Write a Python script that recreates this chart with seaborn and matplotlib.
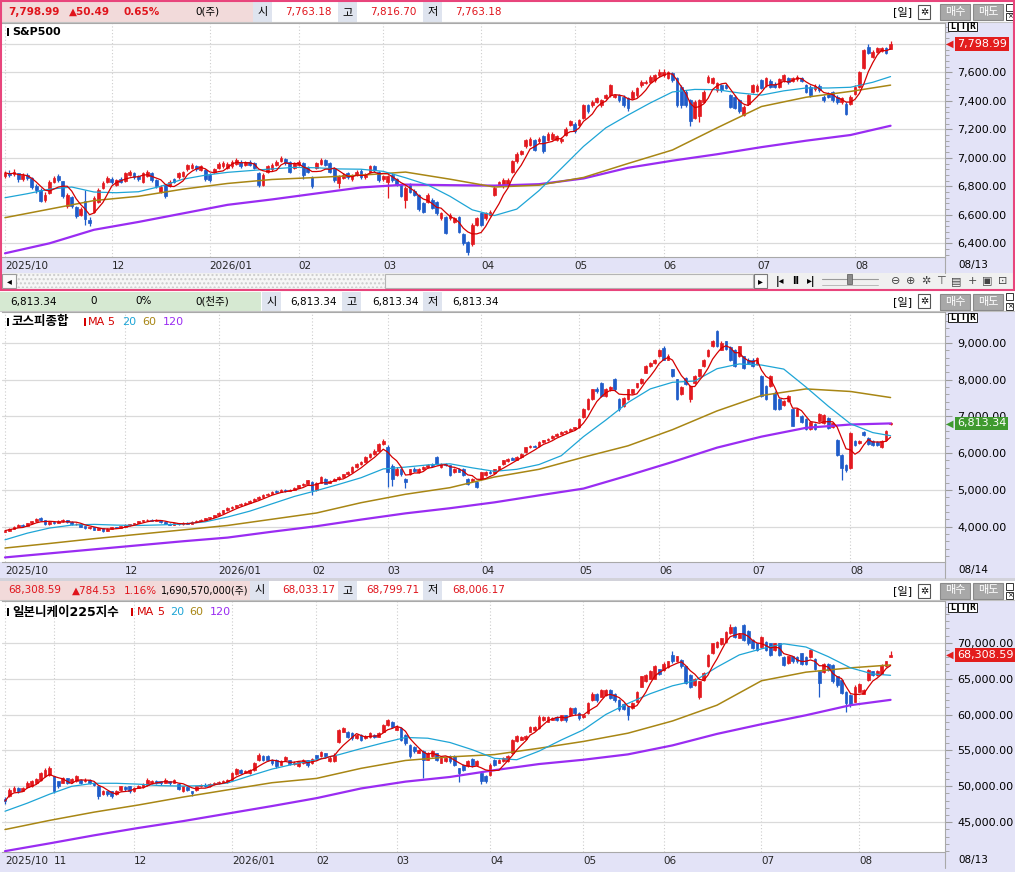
import numpy as np
import pandas as pd
import matplotlib
matplotlib.use("Agg")
import matplotlib.pyplot as plt
from matplotlib.patches import Rectangle
from matplotlib.lines import Line2D
import seaborn as sns

# === S&P500 daily candles ===
sp_open = [6870, 6895, 6885, 6890, 6850, 6878, 6860, 6805, 6772, 6702,
           6752, 6830, 6870, 6835, 6662, 6722, 6652, 6600, 6700, 6562,
           6620, 6690, 6790, 6830, 6852, 6812, 6850, 6840, 6880, 6892,
           6870, 6832, 6872, 6896, 6842, 6762, 6810, 6800, 6852, 6862,
           6872, 6920, 6930, 6942, 6916, 6916, 6880, 6900, 6930, 6942,
           6932, 6940, 6960, 6972, 6950, 6972, 6962, 6892, 6812, 6900,
           6920, 6950, 6980, 6992, 6972, 6930, 6950, 6962, 6932, 6862,
           6930, 6960, 6982, 6962, 6930, 6820, 6860, 6890, 6850, 6880,
           6910, 6862, 6902, 6942, 6900, 6850, 6832, 6880, 6852, 6810,
           6702, 6810, 6770, 6740, 6680, 6690, 6705, 6690, 6575, 6585,
           6575, 6550, 6585, 6462, 6410, 6392, 6530, 6610, 6575, 6600,
           6740, 6810, 6800, 6810, 6900, 6975, 7030, 7080, 7090, 7125,
           7115, 7150, 7125, 7135, 7125, 7115, 7160, 7230, 7240, 7230,
           7280, 7370, 7370, 7395, 7370, 7420, 7440, 7430, 7440, 7430,
           7420, 7420, 7440, 7510, 7525, 7535, 7545, 7580, 7580, 7560,
           7595, 7560, 7500, 7465, 7405, 7280, 7290, 7395, 7535, 7525,
           7475, 7510, 7510, 7440, 7430, 7405, 7300, 7380, 7465, 7470,
           7545, 7510, 7540, 7520, 7500, 7545, 7560, 7540, 7550, 7560,
           7510, 7500, 7480, 7505, 7430, 7450, 7460, 7430, 7390, 7380,
           7380, 7450, 7500, 7630, 7780, 7710, 7745, 7750, 7770, 7763.18]
sp_close = [6895, 6880, 6902, 6850, 6880, 6860, 6792, 6772, 6700, 6742,
            6830, 6860, 6842, 6730, 6740, 6660, 6590, 6642, 6572, 6540,
            6720, 6775, 6825, 6860, 6830, 6842, 6832, 6890, 6902, 6862,
            6850, 6890, 6902, 6842, 6800, 6796, 6732, 6832, 6832, 6890,
            6902, 6950, 6952, 6920, 6940, 6852, 6842, 6922, 6960, 6965,
            6960, 6972, 6986, 6942, 6970, 6952, 6932, 6812, 6880, 6940,
            6952, 6972, 7002, 6962, 6902, 6962, 6972, 6882, 6902, 6800,
            6962, 6986, 6952, 6900, 6842, 6870, 6882, 6862, 6876, 6902,
            6862, 6882, 6942, 6912, 6842, 6872, 6870, 6842, 6812, 6732,
            6790, 6762, 6740, 6640, 6622, 6740, 6650, 6612, 6610, 6472,
            6600, 6575, 6482, 6402, 6342, 6530, 6575, 6532, 6610, 6622,
            6790, 6830, 6845, 6845, 6975, 7030, 7045, 7125, 7135, 7055,
            7135, 7045, 7170, 7170, 7150, 7135, 7205, 7255, 7185, 7265,
            7370, 7325, 7395, 7420, 7405, 7440, 7510, 7440, 7405, 7370,
            7350, 7465, 7490, 7535, 7535, 7570, 7580, 7605, 7605, 7600,
            7545, 7370, 7370, 7370, 7255, 7395, 7405, 7465, 7570, 7560,
            7525, 7475, 7490, 7360, 7350, 7325, 7360, 7440, 7510, 7505,
            7490, 7560, 7500, 7500, 7550, 7580, 7530, 7560, 7570, 7540,
            7465, 7440, 7505, 7475, 7405, 7430, 7405, 7390, 7420, 7310,
            7430, 7500, 7600, 7755, 7735, 7745, 7770, 7770, 7735, 7798.99]
sp_high = [6910, 6912, 6918, 6895, 6896, 6890, 6866, 6818, 6790, 6760,
           6846, 6872, 6886, 6838, 6752, 6732, 6662, 6656, 6772, 6582,
           6732, 6786, 6836, 6872, 6862, 6852, 6862, 6898, 6912, 6900,
           6880, 6898, 6912, 6902, 6850, 6806, 6816, 6842, 6860, 6898,
           6910, 6960, 6962, 6952, 6950, 6922, 6890, 6932, 6970, 6975,
           6972, 6982, 6996, 6982, 6980, 6982, 6972, 6902, 6892, 6950,
           6962, 6982, 7012, 7000, 6980, 6972, 6982, 6970, 6942, 6870,
           6972, 6996, 6992, 6972, 6938, 6880, 6892, 6900, 6886, 6912,
           6920, 6892, 6952, 6952, 6910, 6882, 6880, 6890, 6860, 6818,
           6800, 6820, 6780, 6748, 6690, 6750, 6715, 6700, 6620, 6592,
           6610, 6585, 6592, 6470, 6418, 6540, 6585, 6620, 6620, 6632,
           6800, 6840, 6855, 6855, 6985, 7040, 7055, 7135, 7145, 7135,
           7145, 7160, 7180, 7180, 7160, 7145, 7215, 7265, 7250, 7275,
           7380, 7380, 7405, 7430, 7415, 7450, 7520, 7450, 7450, 7440,
           7430, 7475, 7500, 7545, 7545, 7580, 7590, 7620, 7620, 7612,
           7605, 7570, 7510, 7475, 7415, 7405, 7415, 7475, 7580, 7570,
           7535, 7520, 7520, 7450, 7440, 7415, 7370, 7450, 7520, 7515,
           7555, 7570, 7550, 7530, 7560, 7590, 7570, 7570, 7580, 7570,
           7520, 7510, 7515, 7515, 7440, 7460, 7470, 7440, 7430, 7390,
           7440, 7510, 7610, 7765, 7800, 7755, 7780, 7780, 7780, 7816.70]
sp_low = [6860, 6868, 6872, 6832, 6840, 6842, 6780, 6756, 6688, 6690,
          6745, 6820, 6830, 6718, 6648, 6650, 6578, 6590, 6530, 6520,
          6610, 6680, 6780, 6820, 6815, 6800, 6822, 6832, 6872, 6852,
          6838, 6824, 6862, 6830, 6790, 6752, 6720, 6792, 6822, 6852,
          6862, 6910, 6922, 6910, 6906, 6840, 6832, 6890, 6920, 6932,
          6922, 6930, 6950, 6932, 6940, 6942, 6920, 6792, 6802, 6890,
          6910, 6940, 6970, 6950, 6890, 6920, 6940, 6850, 6890, 6790,
          6920, 6950, 6940, 6890, 6830, 6790, 6850, 6850, 6840, 6870,
          6850, 6852, 6892, 6900, 6830, 6840, 6720, 6830, 6800, 6722,
          6645, 6750, 6730, 6630, 6612, 6680, 6640, 6600, 6565, 6462,
          6565, 6540, 6470, 6390, 6320, 6380, 6520, 6520, 6565, 6590,
          6730, 6800, 6790, 6800, 6890, 6965, 7020, 7070, 7080, 7045,
          7105, 7035, 7115, 7125, 7115, 7105, 7150, 7220, 7175, 7220,
          7270, 7315, 7360, 7385, 7360, 7410, 7430, 7420, 7395, 7360,
          7330, 7410, 7430, 7500, 7515, 7525, 7535, 7570, 7570, 7550,
          7535, 7360, 7350, 7355, 7225, 7270, 7250, 7385, 7525, 7515,
          7465, 7465, 7480, 7350, 7340, 7315, 7290, 7370, 7455, 7460,
          7480, 7500, 7490, 7490, 7490, 7535, 7520, 7530, 7540, 7530,
          7455, 7430, 7470, 7465, 7395, 7420, 7395, 7380, 7380, 7300,
          7370, 7440, 7490, 7620, 7725, 7700, 7735, 7740, 7725, 7763.18]

# === KOSPI daily candles ===
ks_open = [3860, 3890, 3940, 3990, 4050, 4020, 4090, 4140, 4220, 4180,
           4060, 4120, 4100, 4140, 4180, 4120, 4060, 4080, 4010, 3950,
           3980, 3920, 3950, 3880, 3940, 3980, 3960, 4000, 4040, 4060,
           4100, 4140, 4170, 4190, 4160, 4180, 4130, 4080, 4050, 4090,
           4060, 4110, 4080, 4130, 4160, 4190, 4220, 4260, 4310, 4380,
           4440, 4500, 4540, 4580, 4620, 4650, 4700, 4760, 4800, 4860,
           4900, 4980, 4940, 4990, 4970, 5000, 5060, 5120, 5170, 5215,
           5000, 5200, 5300, 5200, 5250, 5300, 5350, 5420, 5490, 5620,
           5700, 5760, 5900, 5980, 6070, 6250, 6180, 5650, 5400, 5560,
           5300, 5420, 5580, 5480, 5560, 5620, 5680, 5890, 5620, 5700,
           5665, 5485, 5560, 5575, 5300, 5250, 5215, 5300, 5400, 5500,
           5460, 5560, 5710, 5780, 5860, 5820, 5900, 6020, 6160, 6200,
           6200, 6300, 6350, 6400, 6480, 6530, 6570, 6610, 6660, 6700,
           6975, 7200, 7470, 7740, 7920, 7560, 7740, 8010, 7470, 7290,
           7470, 7650, 7800, 7900, 8190, 8370, 8450, 8640, 8865, 8550,
           8280, 8010, 7600, 8055, 7470, 7900, 8100, 8370, 8640, 8910,
           9315, 8820, 9045, 8900, 8820, 8640, 8640, 8550, 8550, 8415,
           8100, 7830, 7830, 7650, 7470, 7300, 7420, 7200, 7020, 7000,
           6930, 6660, 6795, 6885, 6820, 6955, 6710, 6360, 5950, 5675,
           5595, 6330, 6275, 6570, 6410, 6330, 6300, 6170, 6350, 6790]
ks_close = [3890, 3940, 3990, 4040, 4020, 4090, 4140, 4210, 4190, 4060,
            4120, 4100, 4150, 4180, 4130, 4060, 4080, 4000, 3960, 3990,
            3920, 3950, 3880, 3940, 3980, 3960, 4010, 4040, 4060, 4100,
            4140, 4170, 4190, 4160, 4180, 4130, 4080, 4050, 4090, 4060,
            4110, 4080, 4130, 4160, 4190, 4220, 4260, 4310, 4380, 4440,
            4500, 4540, 4580, 4620, 4650, 4700, 4760, 4800, 4860, 4900,
            4950, 4940, 4990, 4970, 5000, 5060, 5120, 5170, 5260, 4990,
            5200, 5350, 5170, 5250, 5300, 5350, 5420, 5490, 5620, 5700,
            5760, 5900, 5980, 6070, 6250, 6340, 5500, 5300, 5580, 5420,
            5220, 5560, 5520, 5580, 5620, 5680, 5650, 5710, 5710, 5680,
            5395, 5575, 5500, 5395, 5170, 5300, 5080, 5485, 5500, 5460,
            5560, 5640, 5800, 5850, 5820, 5900, 5980, 6160, 6200, 6180,
            6300, 6350, 6390, 6480, 6530, 6570, 6610, 6660, 6700, 6930,
            7200, 7470, 7740, 7700, 7560, 7740, 7800, 7740, 7200, 7500,
            7740, 7740, 7900, 8010, 8370, 8450, 8550, 8820, 8550, 8650,
            8100, 7470, 7800, 7875, 7830, 8100, 8280, 8550, 8820, 9045,
            8910, 9000, 8850, 8550, 8370, 8910, 8325, 8450, 8370, 8595,
            7560, 7470, 8100, 7200, 7200, 7420, 7560, 6750, 7200, 6850,
            6660, 6840, 6660, 7065, 7040, 6685, 6820, 5950, 5595, 5540,
            6550, 6220, 6330, 6500, 6250, 6220, 6220, 6330, 6600, 6813.34]
ks_high = [3910, 3960, 4010, 4060, 4070, 4110, 4160, 4230, 4250, 4190,
           4140, 4150, 4170, 4200, 4190, 4140, 4100, 4090, 4020, 4000,
           3990, 3970, 3960, 3960, 3990, 4000, 4020, 4060, 4080, 4110,
           4160, 4190, 4210, 4200, 4200, 4190, 4140, 4100, 4100, 4110,
           4120, 4130, 4140, 4180, 4200, 4240, 4270, 4320, 4400, 4460,
           4520, 4560, 4600, 4640, 4670, 4720, 4780, 4820, 4880, 4920,
           4970, 5000, 5010, 5020, 5020, 5080, 5140, 5190, 5280, 5240,
           5220, 5370, 5320, 5270, 5320, 5370, 5440, 5510, 5640, 5720,
           5780, 5920, 6000, 6100, 6270, 6380, 6230, 5700, 5620, 5600,
           5330, 5580, 5620, 5600, 5650, 5710, 5720, 5930, 5740, 5730,
           5690, 5600, 5590, 5600, 5320, 5320, 5240, 5500, 5520, 5540,
           5580, 5660, 5820, 5870, 5890, 5920, 6000, 6180, 6220, 6230,
           6320, 6370, 6420, 6500, 6550, 6600, 6640, 6680, 6720, 6950,
           7220, 7500, 7760, 7800, 7950, 7770, 7840, 8050, 7500, 7520,
           7760, 7760, 7920, 8040, 8400, 8470, 8570, 8840, 8920, 8700,
           8300, 8030, 7820, 8080, 7850, 8120, 8300, 8570, 8840, 9080,
           9360, 9050, 9060, 8920, 8840, 8930, 8660, 8580, 8580, 8620,
           8130, 7850, 8120, 7680, 7490, 7440, 7580, 7220, 7220, 7030,
           6950, 6860, 6820, 7100, 7060, 6980, 6840, 6380, 5980, 5700,
           6570, 6360, 6350, 6600, 6430, 6350, 6320, 6350, 6620, 6850]
ks_low = [3840, 3880, 3930, 3980, 4000, 4010, 4080, 4130, 4160, 4040,
          4050, 4080, 4090, 4120, 4110, 4040, 4040, 3980, 3940, 3930,
          3900, 3900, 3860, 3870, 3930, 3950, 3950, 3990, 4020, 4040,
          4090, 4130, 4150, 4140, 4150, 4110, 4060, 4030, 4040, 4040,
          4050, 4060, 4070, 4120, 4150, 4180, 4210, 4250, 4300, 4370,
          4430, 4480, 4520, 4560, 4600, 4640, 4690, 4750, 4790, 4850,
          4880, 4920, 4930, 4950, 4960, 4990, 5050, 5100, 5160, 4860,
          4980, 5190, 5150, 5180, 5230, 5280, 5340, 5400, 5480, 5600,
          5680, 5750, 5880, 5960, 6050, 6230, 5080, 5100, 5380, 5390,
          5050, 5400, 5480, 5460, 5540, 5600, 5630, 5690, 5600, 5650,
          5380, 5470, 5480, 5380, 5140, 5220, 5040, 5280, 5380, 5430,
          5440, 5540, 5690, 5760, 5800, 5800, 5880, 6000, 6140, 6160,
          6180, 6280, 6330, 6380, 6460, 6510, 6550, 6590, 6640, 6680,
          6960, 7180, 7450, 7650, 7540, 7540, 7700, 7700, 7150, 7270,
          7440, 7620, 7780, 7880, 8170, 8350, 8430, 8620, 8530, 8530,
          8080, 7440, 7580, 7850, 7380, 7880, 8080, 8350, 8620, 8890,
          8880, 8800, 8820, 8520, 8350, 8620, 8300, 8420, 8350, 8400,
          7540, 7450, 7810, 7180, 7180, 7280, 7400, 6730, 7000, 6820,
          6640, 6640, 6640, 6860, 6800, 6660, 6690, 5920, 5270, 5500,
          5570, 6190, 6250, 6470, 6220, 6200, 6190, 6150, 6330, 6780]

# === Nikkei 225 daily candles ===
nk_open = [48300, 48600, 49300, 49800, 49400, 49900, 50000, 50500, 50900, 51400,
           51600, 51400, 50700, 50500, 51100, 50600, 50700, 50900, 50700, 50900,
           50400, 50000, 48900, 49300, 49300, 48900, 49500, 49900, 50000, 49300,
           49800, 49900, 50200, 50400, 50800, 50700, 50500, 50700, 50500, 50300,
           49300, 49900, 49300, 49500, 50000, 50200, 50000, 50300, 50400, 50500,
           50600, 50900, 51700, 52300, 51900, 51800, 52300, 53600, 54200, 54200,
           53700, 53700, 53000, 53600, 53600, 53100, 52800, 53200, 53600, 53200,
           54300, 54200, 54600, 53500, 53500, 56200, 57600, 57600, 57400, 56700,
           57200, 56700, 56800, 57200, 56900, 57600, 58500, 59000, 57900, 58100,
           57200, 55800, 55500, 54700, 54900, 53700, 54200, 54600, 53300, 53500,
           54200, 54200, 52500, 53000, 52800, 53800, 53000, 51900, 51500, 51600,
           53700, 53300, 53500, 53500, 54600, 56300, 56500, 56600, 57600, 57800,
           58100, 59200, 59000, 59300, 59700, 59200, 59900, 59900, 60900, 60200,
           59600, 60200, 62000, 62900, 62500, 62700, 63400, 62900, 62000, 61500,
           61100, 60900, 61800, 63900, 64600, 65000, 65000, 66300, 66200, 66600,
           68300, 67400, 67600, 66700, 65500, 64100, 62500, 64800, 66700, 68500,
           69400, 69800, 70100, 71300, 72200, 70700, 72400, 71700, 70400, 69900,
           69400, 70100, 69900, 69000, 69900, 68000, 67200, 68100, 68000, 68500,
           68000, 68000, 67800, 66000, 65900, 67100, 66900, 65300, 64800, 63200,
           62700, 61800, 63200, 62900, 64800, 66000, 65500, 65700, 66700, 68033.17]
nk_close = [47950, 49500, 49800, 49350, 49700, 50500, 50700, 51000, 51850, 52300,
            52500, 49300, 50000, 51100, 50500, 51000, 51400, 50500, 50900, 50450,
            50200, 48600, 49300, 48900, 48600, 49300, 50000, 49600, 49300, 49800,
            50000, 50300, 50900, 50700, 50500, 50400, 50900, 50400, 50900, 49600,
            50000, 49500, 49000, 50000, 50200, 50000, 50300, 50500, 50600, 50750,
            50900, 51850, 52400, 51900, 52100, 52300, 53250, 54400, 53700, 53700,
            53200, 52800, 53500, 54100, 53100, 53300, 53400, 53700, 52900, 53800,
            53900, 54800, 54200, 54000, 54400, 57800, 58100, 56900, 56700, 57200,
            56500, 57000, 57400, 56900, 57400, 58500, 59200, 58300, 58300, 56500,
            56000, 54200, 54900, 55100, 53600, 54600, 54900, 53700, 54000, 54000,
            53500, 53000, 51900, 52300, 53500, 52900, 53500, 50700, 50800, 53000,
            53000, 53700, 54000, 54200, 56500, 56950, 56900, 57000, 58300, 58300,
            59700, 59700, 59700, 59500, 59300, 59900, 59200, 60900, 60200, 59500,
            59900, 61600, 62900, 62000, 63400, 63400, 62300, 62000, 60700, 60800,
            59900, 61600, 63200, 65300, 65500, 66000, 66700, 65700, 67100, 67400,
            67400, 68100, 66700, 64400, 63900, 65000, 64600, 65800, 68300, 69900,
            70100, 70600, 71500, 72200, 70800, 71200, 70400, 69900, 69300, 69000,
            70800, 69000, 68300, 69900, 68300, 66900, 68100, 67400, 67400, 67100,
            67100, 69000, 66400, 64350, 67100, 66200, 64600, 64100, 63000, 61600,
            61300, 63900, 64300, 63400, 66200, 65500, 66000, 66900, 67400, 68308.59]
nk_high = [48500, 49700, 50000, 49900, 49900, 50700, 50900, 51200, 52000, 52600,
           52800, 51500, 50800, 51300, 51200, 51200, 51600, 51000, 51100, 51000,
           50600, 50100, 49500, 49400, 49400, 49500, 50100, 50100, 50100, 49900,
           50200, 50500, 51100, 50900, 50900, 50800, 51100, 50800, 51000, 50400,
           50100, 50000, 49400, 50100, 50300, 50400, 50500, 50600, 50700, 50900,
           51000, 52000, 52600, 52400, 52300, 52400, 53400, 54600, 54300, 54300,
           53800, 53800, 53600, 54200, 53700, 53500, 53500, 53800, 53700, 53900,
           54400, 54900, 54700, 54200, 54600, 58000, 58300, 57700, 57500, 57300,
           57300, 57200, 57500, 57300, 57500, 58700, 59400, 59100, 58500, 58200,
           57300, 55900, 55600, 55200, 55000, 54800, 55000, 54700, 54100, 54100,
           54300, 54300, 52600, 53100, 53600, 53900, 53600, 52000, 51600, 53200,
           53800, 53800, 54100, 54300, 56600, 57100, 57000, 57100, 58400, 58400,
           59900, 59800, 59800, 59600, 59800, 60000, 60000, 61000, 61000, 60300,
           60000, 61700, 63100, 63000, 63600, 63500, 63500, 63000, 62100, 61600,
           61200, 61700, 63300, 65400, 65600, 66200, 66900, 66400, 67300, 67500,
           68900, 68200, 67700, 66800, 65600, 65100, 64700, 65900, 68400, 70000,
           70200, 70700, 71600, 72600, 72300, 71300, 72600, 71800, 70500, 70000,
           70900, 70200, 70000, 70000, 70000, 68100, 68200, 68200, 68100, 68600,
           68100, 69100, 67900, 66100, 67200, 67200, 67000, 65400, 64900, 63300,
           62800, 64100, 64400, 63500, 66300, 66100, 66200, 67000, 67500, 68799.71]
nk_low = [47600, 48500, 49200, 49100, 49300, 49800, 49900, 50400, 50800, 51300,
          51500, 49100, 49800, 50400, 50300, 50500, 50600, 50300, 50600, 50300,
          50000, 48300, 48800, 48600, 48400, 48800, 49400, 49400, 49100, 49200,
          49700, 49800, 50100, 50300, 50300, 50200, 50400, 50200, 50400, 49500,
          49200, 49300, 48700, 49400, 49900, 49900, 49900, 50200, 50300, 50400,
          50500, 50800, 51600, 51700, 51800, 51700, 52200, 53500, 53500, 53500,
          53000, 52600, 52900, 53500, 52900, 53000, 52700, 53100, 52700, 53100,
          53700, 54100, 54000, 53400, 53400, 56100, 57500, 56700, 56500, 56600,
          56300, 56600, 56700, 56700, 56800, 57500, 58400, 58100, 57800, 56300,
          55800, 54000, 54700, 54600, 51200, 53600, 54100, 53500, 53200, 53400,
          53300, 52800, 50600, 52100, 52700, 52700, 52900, 50300, 50400, 51500,
          52800, 53200, 53400, 53400, 54500, 56200, 56400, 56500, 57500, 57700,
          58000, 59100, 58900, 59200, 59100, 59100, 59000, 59800, 60000, 59300,
          59500, 60100, 61900, 61800, 62400, 62600, 62100, 61800, 60500, 60600,
          59300, 60800, 61700, 63800, 64500, 64900, 64900, 65500, 66100, 66500,
          67200, 67300, 66500, 64200, 63700, 64000, 62200, 64700, 66600, 68400,
          69300, 69700, 70000, 71200, 70600, 70600, 70200, 69700, 69100, 68800,
          69300, 68800, 68100, 68900, 68100, 66700, 67100, 67200, 67200, 66900,
          66900, 67900, 66200, 62500, 65800, 66000, 64400, 63900, 62800, 60400,
          61100, 61700, 63100, 62800, 64700, 65300, 65400, 65600, 66600, 68006.17]

# === moving averages (MA5 is computed from closes) ===
ma20_days = [0, 5, 10, 15, 20, 25, 30, 35, 40, 45, 50, 55, 60, 65, 70, 75, 80, 85, 90, 95,
             100, 105, 110, 115, 120, 125, 130, 135, 140, 145, 150, 155, 160, 165, 170, 175,
             180, 185, 190, 195, 199]
ma_long_days = [0, 10, 20, 30, 40, 50, 60, 70, 80, 90, 100, 110, 120, 130, 140, 150, 160, 170,
                180, 190, 199]
sp_ma20 = [6720, 6748, 6780, 6795, 6760, 6755, 6762, 6800, 6850, 6878, 6898, 6910, 6922, 6933,
           6930, 6922, 6920, 6905, 6860, 6810, 6730, 6635, 6595, 6640, 6770, 6925, 7080, 7210,
           7300, 7385, 7462, 7480, 7478, 7455, 7440, 7470, 7490, 7490, 7495, 7530, 7570]
sp_ma60 = [6580, 6640, 6700, 6730, 6780, 6820, 6848, 6862, 6878, 6900, 6850, 6795, 6808, 6862,
           6960, 7055, 7210, 7360, 7425, 7466, 7510]
sp_ma120 = [6330, 6400, 6495, 6550, 6610, 6670, 6708, 6750, 6792, 6812, 6808, 6805, 6815, 6855,
            6930, 6980, 7025, 7075, 7120, 7160, 7225]
ks_ma20 = [3640, 3820, 3960, 4040, 4060, 4040, 4030, 4045, 4070, 4130, 4260, 4420, 4620, 4820,
           4980, 5150, 5330, 5570, 5620, 5680, 5710, 5600, 5505, 5560, 5690, 5930, 6450, 6900,
           7380, 7750, 7930, 7965, 8300, 8430, 8400, 8290, 7800, 7280, 6800, 6560, 6475]
ks_ma60 = [3415, 3540, 3670, 3790, 3910, 4030, 4200, 4370, 4650, 4880, 5060, 5350, 5560, 5890,
           6200, 6640, 7150, 7570, 7750, 7680, 7515]
ks_ma120 = [3160, 3270, 3380, 3490, 3600, 3700, 3860, 4010, 4190, 4360, 4500, 4660, 4850, 5035,
            5390, 5760, 6150, 6450, 6690, 6780, 6810]
nk_ma20 = [46530, 47650, 48900, 50000, 50420, 50420, 50300, 50090, 50030, 50100, 50460, 51450,
           52400, 53100, 53700, 54400, 55250, 56050, 56800, 56700, 56100, 55100, 53900, 53700,
           54900, 56450, 57870, 60000, 61550, 62900, 64000, 64700, 66600, 68300, 69150, 69850,
           69400, 68060, 66500, 65650, 65460]
nk_ma60 = [43980, 45250, 46400, 47400, 48500, 49500, 50500, 51100, 52500, 53600, 54100, 54420,
           55300, 56250, 57400, 59100, 61300, 64700, 65900, 66500, 66900]
nk_ma120 = [40970, 42050, 43170, 44200, 45150, 46200, 47250, 48350, 49700, 50650, 51300, 52250,
            53100, 53700, 54450, 55700, 57300, 58650, 59900, 61300, 62040]

# === month labels (trading-day index of first session) ===
sp_month_days = [0, 24, 46, 66, 85, 107, 128, 148, 169, 191]
sp_month_labels = ["2025/10", "12", "2026/01", "02", "03", "04", "05", "06", "07", "08"]
ks_month_days = [0, 27, 48, 69, 86, 107, 129, 147, 168, 190]
ks_month_labels = ["2025/10", "12", "2026/01", "02", "03", "04", "05", "06", "07", "08"]
nk_month_days = [0, 11, 29, 51, 70, 88, 109, 130, 148, 170, 192]
nk_month_labels = ["2025/10", "11", "12", "2026/01", "02", "03", "04", "05", "06", "07", "08"]

# === quote header texts ===
sp_quote = ["7,798.99", "▲50.49", "0.65%", "0(주)"]
sp_ohl = ["7,763.18", "7,816.70", "7,763.18"]
ks_quote = ["6,813.34", "0", "0%", "0(천주)"]
ks_ohl = ["6,813.34", "6,813.34", "6,813.34"]
nk_quote = ["68,308.59", "▲784.53", "1.16%", "1,690,570,000(주)"]
nk_ohl = ["68,033.17", "68,799.71", "68,006.17"]

# === style ===
W, H = 1015, 872
PITCH, X0 = 4.45, 5
PLOT_L, PLOT_R = 2, 945
UP, DOWN = "#e3191f", "#1f5cc9"
MA5_C, MA20_C, MA60_C, MA120_C = "#d40000", "#1ea5d6", "#a88614", "#9a2cf2"
RED = "#e0141c"
LAV = "#e3e3f7"
PINK = "#e8457c"
GRID = "#dadada"

sns.set_theme(style="white")
plt.rcParams["font.family"] = ["DejaVu Sans", "Noto Sans CJK KR"]
plt.rcParams["axes.unicode_minus"] = False

fig = plt.figure(figsize=(W / 100, H / 100), dpi=100)
fig.patch.set_facecolor("white")


def rect(x, y, w, h, fc, ec="none", lw=0.8, z=-5, **kw):
    fig.patches.append(Rectangle((x / W, 1 - (y + h) / H), w / W, h / H, transform=fig.transFigure,
                                 facecolor=fc, edgecolor=ec, linewidth=lw, zorder=z, **kw))


def line(x0, y0, x1, y1, color="#b0b0b0", lw=0.8, z=-4):
    fig.add_artist(Line2D([x0 / W, x1 / W], [1 - y0 / H, 1 - y1 / H], transform=fig.transFigure,
                          color=color, linewidth=lw, zorder=z))


def txt(x, y, s, color="black", size=7.5, weight="normal", ha="left", z=6):
    fig.text(x / W, 1 - y / H, s, color=color, fontsize=size, fontweight=weight, ha=ha,
             va="center", zorder=z)


def header(y, h, main_w, main_bg, quote, quote_x, quote_colors, ohl, cells, ohl_x, ohl_color,
           bold, last_size=7.5, last_ha="left"):
    yc = y + h / 2
    rect(0, y, 1015, h, "white")
    rect(0, y, main_w, h, main_bg)
    for i, (s, xx, col) in enumerate(zip(quote, quote_x, quote_colors)):
        is_vol = i == len(quote) - 1
        wt = "bold" if (bold and not is_vol) else "normal"
        txt(xx, yc, s, color=col, weight=wt, size=last_size if is_vol else 7.5,
            ha=last_ha if is_vol else "left")
    for lab, cx, v, vx in zip(["시", "고", "저"], cells, ohl, ohl_x):
        rect(cx, y, 19, h, "#dfe4ef")
        txt(cx + 9.5, yc, lab, ha="center", size=8)
        txt(vx, yc, v, color=ohl_color)
    line(0, y + h, 1015, y + h, "#c4c4c4")
    # right side buttons
    txt(903, yc, "[일]", ha="center", size=8)
    rect(918, yc - 7, 12, 14, "white", ec="#555555", z=4)
    txt(924, yc, "✲", ha="center", size=7, weight="bold")
    for bx, lab in [(940, "매수"), (973, "매도")]:
        rect(bx, yc - 8, 30, 16, "#a8a8a8", ec="#8a8a8a", z=4)
        txt(bx + 15, yc, lab, color="white", ha="center", size=8)
    rect(1006, yc - 8, 7, 7, "white", ec="#333333", lw=0.7, z=4)
    rect(1006, yc + 1, 7, 7, "white", ec="#333333", lw=0.7, z=4)
    txt(1009.5, yc + 4.5, "×", ha="center", size=5)


def lir(y):
    for i, ch in enumerate("LIR"):
        rect(948 + i * 10, y, 9, 9, "white", ec="#222222", lw=0.7, z=4)
        txt(952.5 + i * 10, y + 4.5, ch, ha="center", size=5.5, weight="bold")


def draw_panel(top, bottom, o, hi, lo, c, ma20, ma60, ma120, ylim, yticks, minor_step,
               mdays, mlabels, box_color, end_label):
    rect(PLOT_R, top, W - PLOT_R, bottom - top + 16, LAV)
    rect(0, bottom, PLOT_R, 16, LAV)
    ax = fig.add_axes([PLOT_L / W, 1 - bottom / H, (PLOT_R - PLOT_L) / W, (bottom - top) / H])
    ax.set_facecolor("white")
    x = np.arange(len(c))
    o, hi, lo, c = (np.asarray(v, dtype=float) for v in (o, hi, lo, c))
    colors = np.where(c >= o, UP, DOWN)
    ax.vlines(x, lo, hi, colors=colors, linewidth=0.9, zorder=3)
    ax.bar(x, np.abs(c - o), bottom=np.minimum(o, c), width=0.62, color=colors,
           edgecolor=colors, linewidth=0.5, zorder=4)
    ma5 = pd.Series(c).rolling(5, min_periods=1).mean().to_numpy()
    sns.lineplot(x=ma_long_days, y=ma120, ax=ax, color=MA120_C, linewidth=1.6, zorder=5)
    sns.lineplot(x=ma_long_days, y=ma60, ax=ax, color=MA60_C, linewidth=1.1, zorder=5)
    sns.lineplot(x=ma20_days, y=ma20, ax=ax, color=MA20_C, linewidth=0.9, zorder=5)
    sns.lineplot(x=x, y=ma5, ax=ax, color=MA5_C, linewidth=0.9, zorder=6)
    xmin = (PLOT_L - X0) / PITCH
    ax.set_xlim(xmin, xmin + (PLOT_R - PLOT_L) / PITCH)
    ax.set_ylim(*ylim)
    ax.set_xlabel("")
    ax.set_ylabel("")
    ax.yaxis.tick_right()
    ax.set_yticks(yticks)
    ax.set_yticklabels([f"{v:,.2f}" for v in yticks])
    first = (ylim[0] // minor_step + 1) * minor_step
    ax.set_yticks(np.arange(first, ylim[1], minor_step), minor=True)
    ax.tick_params(axis="y", which="major", right=True, left=False, length=5, width=0.8,
                   color="#9c9c9c", pad=4, labelsize=8, labelcolor="black")
    ax.tick_params(axis="y", which="minor", right=True, left=False, length=3, width=0.6,
                   color="#9c9c9c")
    ax.set_xticks(mdays)
    ax.set_xticklabels(mlabels, ha="left")
    ax.tick_params(axis="x", which="both", bottom=True, length=0, pad=3, labelsize=7.5)
    ax.grid(False)
    ax.yaxis.grid(True, which="major", color=GRID, linewidth=0.9)
    ax.xaxis.grid(True, which="major", color="#cdcdcd", linewidth=0.8, linestyle=(0, (1, 2)))
    ax.set_axisbelow(True)
    for sp in ax.spines.values():
        sp.set_color("#a9a9a9")
        sp.set_linewidth(0.8)
    ax.spines["left"].set_visible(False)
    last = c[-1]
    ax.annotate("◀", xy=(1, last), xycoords=("axes fraction", "data"), xytext=(1, 0),
                textcoords="offset pixels", ha="left", va="center", color=box_color,
                fontsize=7, annotation_clip=False, zorder=8)
    ax.annotate(f"{last:,.2f}", xy=(1, last), xycoords=("axes fraction", "data"),
                xytext=(12, 0), textcoords="offset pixels", ha="left", va="center",
                color="white", fontsize=8,
                bbox=dict(boxstyle="square,pad=0.15", fc=box_color, ec="none"),
                annotation_clip=False, zorder=8)
    line(PLOT_R, bottom, PLOT_R, bottom + 16, "#a9a9a9")
    txt(958, bottom + 8, end_label, size=7.5)
    return ax


# ---------- panel 1 : S&P500 ----------
header(2, 20, 253, "#f2dada", sp_quote, [8, 69, 123, 195], [RED, RED, RED, "black"],
       sp_ohl, [253, 338, 423], [285, 370, 455], RED, True)
draw_panel(23, 257, sp_open, sp_high, sp_low, sp_close, sp_ma20, sp_ma60, sp_ma120,
           (6304, 7946), np.arange(6400, 7801, 200), 40, sp_month_days, sp_month_labels,
           "#e31d1d", "08/13")
rect(7, 28, 2, 8, "black", z=6)
txt(12, 32, "S&P500", size=8, weight="bold")
lir(22)
# scroll / control row
rect(0, 273, 1015, 16, "#f0f0f0")
rect(17, 274, 368, 14, "#f6f6f6", ec="#cccccc", lw=0, hatch="....", z=-4)
rect(2, 274, 14, 14, "#fafafa", ec="#9a9a9a", z=-3)
txt(9, 281, "◂", ha="center", size=7)
rect(385, 274, 368, 14, "#f4f4f4", ec="#b4b4b4", z=-3)
rect(754, 274, 13, 14, "#fafafa", ec="#7a7a7a", z=-3)
txt(760.5, 281, "▸", ha="center", size=7)
txt(780, 281, "|◂", ha="center", size=7, weight="bold")
txt(796, 281, "II", ha="center", size=7, weight="bold")
txt(811, 281, "▸|", ha="center", size=7, weight="bold")
line(822, 279, 878, 279, "#9a9a9a", 0.8, z=-3)
line(822, 285, 878, 285, "#b0b0b0", 0.6, z=-3)
rect(847, 274, 5, 10, "#8a8a8a", ec="#555555", lw=0.5, z=-2)
for ix, ch in zip([896, 911, 926, 941, 956, 972, 987, 1003], ["⊖", "⊕", "✲", "⊤", "▤", "+", "▣", "⊡"]):
    txt(ix, 281, ch, ha="center", size=8, color="#444444")
rect(0.75, 0.75, 1013.5, 289.5, "none", ec=PINK, lw=1.5, z=10)

# ---------- panel 2 : KOSPI ----------
header(292, 19, 261, "#d6e9d2", ks_quote, [10, 90, 135, 195], ["black"] * 4,
       ks_ohl, [262, 342, 423], [290, 372, 452], "black", False)
draw_panel(312, 562, ks_open, ks_high, ks_low, ks_close, ks_ma20, ks_ma60, ks_ma120,
           (3035, 9845), np.arange(4000, 9001, 1000), 200, ks_month_days, ks_month_labels,
           "#3f9a2f", "08/14")
rect(7, 318, 2, 8, "black", z=6)
txt(12, 322, "코스피종합", size=9, weight="bold")
rect(84, 318, 2, 8, MA5_C, z=6)
for s, xx, col in zip(["MA", "5", "20", "60", "120"], [88, 107, 122, 142, 163],
                      [MA5_C, MA5_C, MA20_C, MA60_C, MA120_C]):
    txt(xx, 322, s, color=col, size=8)
lir(313)
rect(0, 578, 1015, 3, "#d2d2da")

# ---------- panel 3 : Nikkei 225 ----------
header(581, 19, 250, "#f2dada", nk_quote, [8, 72, 124, 248], [RED, RED, RED, "black"],
       nk_ohl, [250, 338, 423], [282, 366, 452], RED, False, last_size=7, last_ha="right")
draw_panel(601, 852, nk_open, nk_high, nk_low, nk_close, nk_ma20, nk_ma60, nk_ma120,
           (40850, 75810), np.arange(45000, 70001, 5000), 1000, nk_month_days, nk_month_labels,
           "#e31d1d", "08/13")
rect(7, 608, 2, 8, "black", z=6)
txt(12, 612, "일본니케이225지수", size=9, weight="bold")
rect(131, 608, 2, 8, MA5_C, z=6)
for s, xx, col in zip(["MA", "5", "20", "60", "120"], [137, 157, 170, 189, 210],
                      [MA5_C, MA5_C, MA20_C, MA60_C, MA120_C]):
    txt(xx, 612, s, color=col, size=8)
lir(603)
rect(0, 868, 1015, 4, LAV)

fig.savefig("out.png", dpi=100)
